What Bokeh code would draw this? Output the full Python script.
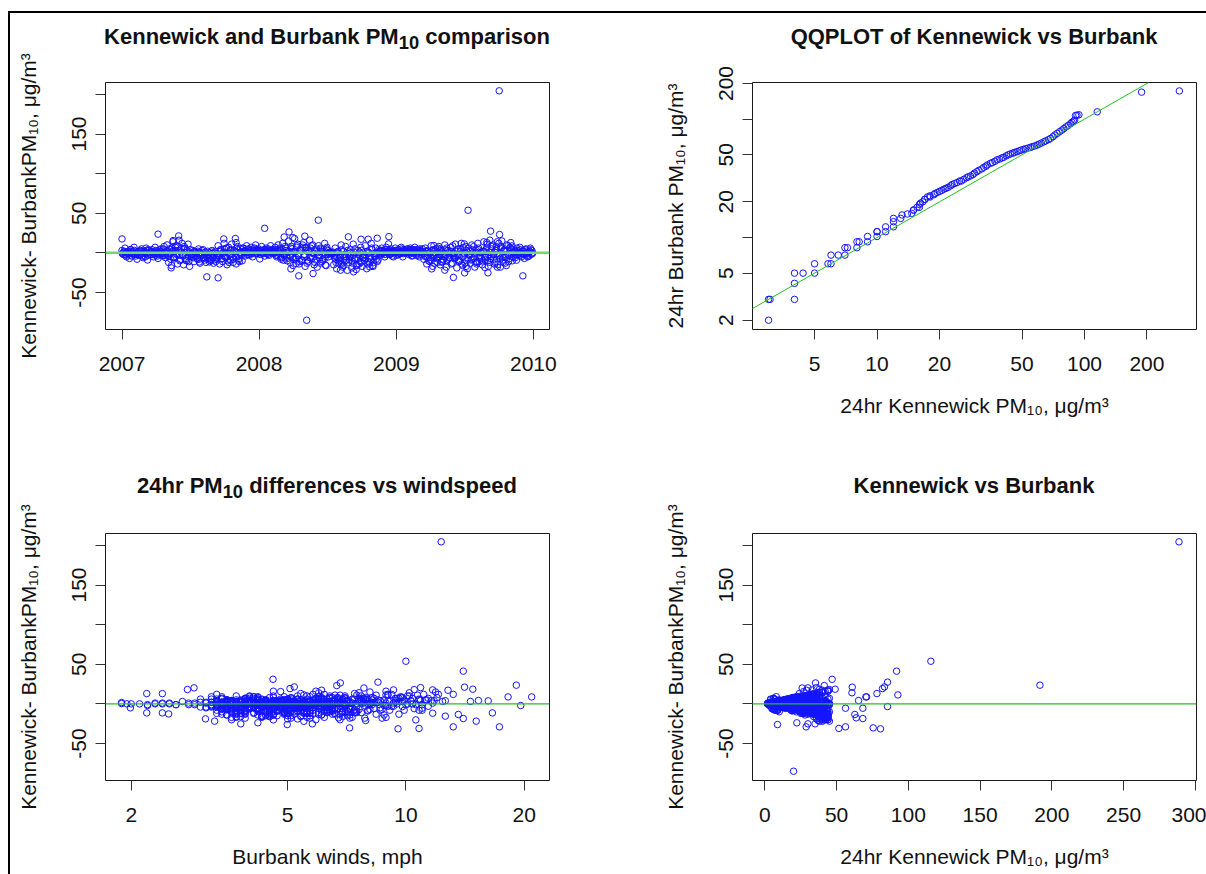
import numpy as np
import pandas as pd
from bokeh.plotting import figure
from bokeh.models import (Range1d, FixedTicker, DatetimeTickFormatter, Div,
                          PrintfTickFormatter, Span, Slope, Spacer, ColumnDataSource)
from bokeh.layouts import row, column
from bokeh.embed import file_html
from bokeh.resources import INLINE

# ------------------------------------------------------------------ data
# dense part of the record, three interleaved samplings (every 4 days,
# from 2007-01-01, 2007-01-02 and 2007-01-03): Kennewick - Burbank PM10
# difference, Burbank wind (mph) and Kennewick PM10 for each sampled day
band1_start = "2007-01-01"
band1_diff = [
    3, -2, 6, -5, 1, -7, 4, -1, 7, -4,
    -8, 2, -3, 5, -6, 0, 6, -9, 3, -2,
    4, -5, 7, -1, -7, 2, 5, -3, 8, -6,
    10, -12, 4, -16, 14, -6, 9, -14, 16, -9,
    12, -15, 6, -10, 11, -17,
    -4, 3, -11, 1, -7, 5, -13, -2, 4, -9,
    -12, 2, -6, -10, 3, -13, 0, -8,
    9, -14, 4, -11, 12, -5, -15, 7, -9,
    11, -12, 2, -14, 8, -7, 5, -10,
    6, -4, 9, 1, -3, 7, -5, 3, 10, -1,
    5, -2, 8, 0, -4, 6, 2, -3, 9, 4,
    -1, 7, -5, 10, 3, -8, 12, -2, 6, -10,
    15, -12, 8, -16, 18, -6, 11, -14, 4, -9,
    13, -17, 7, -11, 16, -4, 10, -15, 2, -18,
    9, -13, 5, -8, 12, -16, 3,
    -1, 1, 0,
    -15, 6, -20, 2, -10, 10, -18, -5, 8, -22,
    -12, 4, -19, 11, -8, -21, 3, -14, 7, -17,
    -6, 9, -20, 1, -13, 12, -16, -3, 6, -11,
    4, -3, 6, 0, -5, 7, 2, -2, 5, -4,
    1, 6, -3, 4, -1, 7, -5, 3, 0, 5,
    -2, 6, -4, 2, 7, -3, 4, -5, 1, 5,
    -8, 6, -14, 2, -11, 9, -17, -3, 5, -12,
    8, -15, 1, -9, 10, -18, 3, -6, 7, -13,
    -4, 11, -19, 5, -10, 12, -16, -1, 8, -20,
    6, -13, 10, -7, -18, 3, 12, -11, 0, -15,
    14, -9, 7, -17, 16, -4, 10, -14, 3, -18,
    12, -7, 15, -12, 5, -16, 9, -3, 13, -10,
    4, -6, 6, -2, 7, -5, 2, -7, 5, 0, -4, 6, 3,
]
band1_wind = [
    5.2, 3.4, 7.8, 4.1, 2.3, 6.5, 3.9, 2.9, 9.4, 4.6,
    5.8, 3.1, 4.4, 8.2, 3.6, 2.1, 6.9, 4.9, 3.3, 5.5,
    10.3, 4.0, 5.1, 2.6, 7.2, 3.7, 11.2, 4.8, 6.1, 3.5,
    6.4, 3.8, 9.9, 4.5, 7.6, 5.3, 3.2, 8.8, 5.9, 4.2,
    12.1, 4.7, 6.2, 3.9, 8.4, 5.6,
    3.4, 5.0, 7.0, 2.8, 4.3, 10.8, 6.0, 3.6, 4.9, 8.0,
    4.1, 3.0, 6.6, 5.4, 9.1, 3.7, 2.5, 7.4,
    5.7, 4.4, 11.6, 6.3, 3.3, 8.6, 5.0, 4.0, 7.1,
    6.8, 3.9, 5.5, 4.6, 9.7, 3.5, 7.9, 5.2,
    4.2, 3.1, 6.0, 2.4, 5.6, 8.3, 3.8, 4.7, 10.1, 2.2,
    7.3, 3.4, 4.5, 1.95, 6.4, 3.0, 5.1, 9.3, 4.1, 11.8,
    3.6, 5.9, 4.8, 7.7, 2.7, 6.2, 9.0, 3.9, 5.3, 4.4,
    8.1, 4.5, 6.7, 3.8, 10.5, 5.0, 7.5, 4.2, 12.6, 6.1,
    5.4, 3.7, 9.6, 6.9, 4.6, 3.2, 7.0, 5.7, 4.0, 8.7,
    4.9, 6.5, 3.5, 11.0, 5.8, 4.3, 7.8,
    3.3, 4.7, 6.3,
    4.4, 6.0, 3.6, 8.5, 5.1, 4.0, 7.2, 3.1, 9.8, 5.5,
    6.6, 4.2, 5.0, 10.7, 3.8, 7.9, 4.6, 6.1, 3.4, 8.9,
    5.3, 4.1, 6.8, 2.9, 4.9, 9.2, 3.7, 5.9, 7.4, 4.5,
    3.5, 6.2, 4.3, 2.3, 5.7, 10.4, 3.9, 4.8, 7.6, 3.0,
    5.0, 8.0, 3.3, 6.5, 2.6, 11.4, 4.4, 3.6, 2.0, 5.4,
    3.9, 6.9, 4.0, 5.2, 9.5, 3.2, 7.1, 4.6, 2.5, 5.8,
    4.7, 6.1, 3.5, 8.2, 5.5, 4.2, 7.3, 3.8, 10.9, 5.0,
    6.4, 4.3, 3.1, 7.5, 5.6, 3.9, 12.4, 4.9, 6.7, 8.4,
    3.4, 9.0, 5.3, 4.1, 6.3, 11.1, 4.5, 2.8, 7.0, 5.9,
    4.8, 6.6, 3.7, 8.1, 5.1, 4.0, 13.2, 7.7, 3.5, 5.4,
    10.2, 4.2, 6.0, 3.6, 8.9, 5.2, 4.6, 7.2, 14.6, 5.7,
    6.2, 3.8, 11.9, 5.0, 4.3, 6.9, 9.7, 3.3, 7.4, 4.9,
    4.4, 5.6, 3.2, 2.2, 7.0, 4.0, 3.6, 8.7, 5.3, 2.4, 6.4, 3.9, 4.7,
]
band1_kenn = [
    12, 8, 18, 14, 5, 20, 10, 4, 22, 11,
    19, 7, 13, 16, 21, 3, 15, 24, 9, 6,
    14, 17, 23, 5, 26, 9, 13, 8, 19, 22,
    30, 34, 21, 38, 40, 25, 28, 36, 44, 27,
    33, 41, 24, 29, 37, 43,
    16, 12, 31, 7, 24, 18, 35, 10, 15, 28,
    33, 11, 22, 29, 14, 37, 6, 26,
    27, 39, 17, 32, 34, 20, 42, 23, 30,
    31, 35, 13, 40, 26, 21, 19, 32,
    4, 12, 8, 6, 10, 6, 14, 9, 25, 5,
    13, 8, 20, 4, 11, 16, 7, 10, 23, 12,
    6, 19, 15, 27, 11, 23, 33, 9, 17, 28,
    40, 34, 24, 41, 45, 18, 30, 38, 14, 26,
    36, 44, 21, 30, 42, 13, 29, 39, 8, 43,
    27, 35, 16, 24, 32, 41, 10,
    7, 9, 5,
    38, 20, 44, 12, 29, 30, 42, 17, 25, 40,
    33, 15, 43, 31, 24, 37, 11, 36, 22, 39,
    19, 28, 41, 8, 34, 33, 38, 12, 18, 30,
    12, 9, 17, 4, 14, 20, 7, 6, 15, 11,
    6, 16, 10, 13, 5, 19, 15, 9, 3, 14,
    8, 17, 12, 7, 21, 10, 13, 16, 4, 15,
    22, 18, 37, 9, 30, 26, 41, 11, 16, 32,
    24, 39, 6, 25, 29, 42, 12, 19, 21, 35,
    14, 31, 43, 17, 27, 34, 40, 7, 23, 44,
    19, 36, 28, 21, 42, 11, 33, 30, 5, 38,
    37, 26, 22, 40, 44, 15, 29, 36, 13, 41,
    34, 23, 38, 33, 18, 39, 27, 10, 35, 28,
    13, 18, 16, 8, 20, 15, 7, 21, 14, 4, 12, 17, 10,
]

band2_start = "2007-01-03"
band2_diff = [
    0, 2, -3, 1, -1, 4, -4, 2, -2, 0,
    1, -3, 3, -1, 2, -5, 0, 4, -2, 1,
    -2, 1, 3, -4, 0, 2, -1, 5, -3, 1,
    -3, 5, -8, 2, -5, 7, -2, 3, -10, 6,
    -4, 8, -7, 1, -11, 4,
    -2, -6, 1, -4, 2, -8, 0, -3, -7, 1,
    -5, -2, -9, 1, -6, -3, -11, -1,
    -3, 4, -7, 1, -5, 6, -10, -2, 3,
    -6, 3, -4, 6, -9, 0, -3, 2,
    2, 0, 4, -2, 3, 1, 5, -1, 2, 3,
    1, 3, 0, 4, 2, -1, 5, 1, 3, 0,
    2, -3, 4, 0, -5, 5, -2, 8, -4, 1,
    -3, 6, -6, 2, -8, 9, -1, 4, -10, 7,
    -5, 3, -9, 1, 6, -7, 0, -12, 5, -3,
    -6, 2, -9, 4, -2, 7, -5,
    0, -1, 1,
    -6, -12, 0, -8, -3, -14, 2, -10, -5, -1,
    -9, -4, -13, 1, -7, -16, -2, -11, 3, -6,
    -10, -3, -14, 0, -8, 4, -12, -5, -1, -9,
    1, 3, -1, 2, 4, 0, 3, -2, 1, 2,
    2, 0, 3, 1, -1, 2, 4, 0, 2, 1,
    3, 1, 0, 4, 2, -1, 1, 3, -2, 2,
    -3, 2, -6, 0, -9, 3, -4, -1, -7, 1,
    -5, 3, -8, -2, 4, -10, 0, -6, 2, -4,
    -7, 2, -3, -11, 5, -5, 0, -13, 3, -8,
    -2, -9, 4, -5, 1, -12, 6, -4, -7, 2,
    -5, 4, -10, 1, -7, 8, -2, -12, 5, -3,
    -4, 6, -9, 2, -6, 3, -11, 7, -1, -5,
    1, -2, 3, 0, -3, 2, -1, 4, -4, 1, 2, -2, 0,
]
band2_wind = [
    4.3, 3.6, 5.4, 6.8, 3.2, 4.9, 7.3, 5.9, 3.9, 4.6,
    6.1, 3.5, 4.7, 5.2, 8.3, 3.8, 4.1, 6.6, 5.0, 3.3,
    5.6, 4.4, 7.1, 3.7, 4.9, 6.0, 3.4, 8.8, 5.3, 4.2,
    3.9, 5.1, 6.3, 4.5, 3.6, 7.8, 5.7, 4.0, 6.9, 3.3,
    4.8, 6.5, 3.5, 5.4, 7.4, 4.1,
    5.9, 3.7, 4.6, 6.2, 3.4, 5.0, 8.1, 4.3, 3.8, 6.7,
    4.5, 5.6, 3.9, 7.0, 4.2, 6.1, 3.6, 5.3,
    3.5, 4.8, 6.4, 5.1, 3.8, 7.6, 4.4, 5.8, 9.6,
    4.0, 5.5, 3.3, 6.8, 4.7, 5.2, 7.9, 3.7,
    3.4, 4.6, 5.7, 3.9, 6.5, 4.2, 8.5, 5.0, 3.6, 4.8,
    5.3, 3.8, 4.4, 6.9, 3.2, 5.8, 4.0, 7.2, 3.5, 10.4,
    4.9, 6.3, 3.6, 5.5, 4.2, 7.7, 3.9, 5.1, 6.0, 4.5,
    3.7, 5.0, 6.6, 4.3, 8.0, 3.4, 5.6, 4.8, 7.1, 3.9,
    6.2, 4.0, 5.3, 3.5, 7.3, 4.6, 5.9, 3.8, 4.4, 6.8,
    5.1, 3.6, 4.7, 8.6, 3.9, 6.1, 4.3,
    5.5, 3.4, 4.1,
    4.6, 3.7, 5.8, 4.2, 7.0, 3.5, 5.2, 6.4, 3.9, 4.9,
    5.7, 4.1, 3.4, 6.3, 4.8, 5.4, 3.7, 7.5, 4.4, 5.0,
    3.8, 6.0, 4.5, 5.3, 3.3, 9.4, 4.9, 5.7, 3.6, 6.5,
    4.2, 5.1, 3.5, 6.7, 4.6, 3.9, 5.6, 4.3, 7.8, 3.2,
    4.8, 3.7, 6.1, 4.0, 5.4, 3.4, 4.7, 6.9, 3.8, 5.2,
    3.6, 5.8, 4.4, 3.3, 6.3, 4.9, 5.5, 3.9, 8.9, 4.1,
    5.0, 4.3, 3.7, 6.6, 4.7, 5.9, 3.5, 4.5, 7.4, 5.3,
    4.1, 6.2, 3.8, 5.1, 4.6, 3.4, 5.7, 4.0, 6.8, 3.6,
    5.4, 3.9, 4.8, 6.0, 3.5, 7.2, 4.4, 5.2, 3.7, 9.9,
    4.5, 5.6, 3.6, 6.5, 4.2, 3.3, 5.0, 4.7, 7.6, 3.9,
    6.4, 4.0, 5.5, 3.7, 4.9, 8.2, 4.3, 5.8, 3.5, 6.1,
    3.8, 5.3, 4.5, 6.7, 3.4, 4.8, 5.6, 4.1, 7.0, 3.6,
    4.6, 3.9, 5.7, 4.2, 6.3, 3.5, 5.0, 4.4, 3.7, 6.0, 4.8, 5.4, 3.3,
]
band2_kenn = [
    3, 15, 6, 20, 12, 17, 8, 25, 11, 4,
    22, 10, 16, 7, 28, 13, 19, 11, 24, 8,
    18, 26, 12, 30, 9, 21, 15, 7, 27, 13,
    35, 19, 28, 42, 23, 31, 38, 17, 33, 26,
    24, 39, 30, 44, 27, 36,
    20, 5, 32, 25, 11, 8, 37, 18, 6, 40,
    27, 34, 19, 42, 31, 16, 38, 22,
    41, 25, 33, 18, 44, 29, 36, 21, 39,
    28, 43, 20, 35, 30, 45, 24, 38,
    5, 2, 11, 29, 8, 3, 14, 6, 19, 26,
    12, 27, 2, 20, 33, 4, 22, 6, 18, 3,
    25, 13, 36, 19, 30, 10, 41, 23, 16, 35,
    31, 44, 22, 38, 27, 35, 42, 20, 33, 45,
    29, 40, 24, 37, 19, 33, 45, 26, 39, 21,
    36, 23, 41, 30, 44, 27, 34,
    14, 21, 11,
    32, 25, 40, 19, 35, 28, 43, 22, 37, 45,
    26, 38, 30, 44, 21, 34, 41, 27, 36, 23,
    39, 29, 44, 24, 33, 42, 27, 37, 20, 31,
    3, 22, 5, 26, 13, 2, 19, 8, 4, 17,
    21, 2, 28, 4, 34, 9, 18, 3, 12, 5,
    14, 4, 2, 9, 32, 5, 24, 13, 6, 19,
    30, 23, 37, 16, 41, 28, 34, 20, 43, 26,
    33, 18, 40, 25, 36, 44, 22, 31, 27, 39,
    7, 29, 42, 38, 4, 32, 45, 41, 26, 9,
    24, 40, 31, 36, 19, 43, 28, 34, 38, 22,
    41, 27, 45, 30, 36, 23, 39, 44, 33, 29,
    37, 31, 43, 26, 35, 20, 42, 29, 24, 39,
    18, 3, 12, 29, 21, 15, 4, 10, 27, 2, 14, 23, 5,
]

band3_start = "2007-01-02"
band3_diff = [
    -1, 1, -2, 0, 2, -3, 1, -1, 3, -2,
    0, -2, 2, -4, 1, -1, 3, -3, 0, 2,
    1, -1, -3, 2, -2, 4, 0, -4, 1, -1,
    2, -4, 0, 6, -6, 3, -1, 8, -3, 1,
    -2, 5, -9, 3, -5, 0,
    -1, -5, 2, -3, -8, 0, -4, 3, -6, -2,
    -3, -7, 0, -4, -1, -9, 2, -6,
    -4, 2, -8, -1, 5, -6, 0, -12, 4,
    -2, -8, 1, -5, 4, -11, -1, 6,
    0, 3, -2, 5, 1, -1, 2, 6, 0, 4,
    2, 0, 3, -1, 4, 1, -2, 3, 0, 2,
    0, 4, -3, 2, 6, -6, 1, -4, 3, -7,
    2, -4, 5, -8, 1, 7, -3, -11, 3, 10,
    -2, 6, -13, 3, -6, 9, -1, 4, -9, 0,
    -3, 6, -11, 1, -7, 5, -2,
    1, 0, -1,
    -3, -8, 1, -13, -6, 4, -16, -2, -9, 3,
    -5, 0, -10, -3, 5, -15, -7, 1, -12, -4,
    -2, -7, 2, -11, -4, 6, -17, -1, -8, 0,
    2, -1, 3, 1, -2, 4, 0, 2, -1, 3,
    0, 3, 1, -2, 2, 5, -1, 2, 4, 0,
    1, -1, 4, 0, 3, 1, -3, 5, 2, 0,
    -1, -5, 3, -10, 0, -6, 4, -13, -2, 6,
    -2, 5, -11, 0, -5, 6, -8, 2, -14, -1,
    -1, -6, 4, -9, 2, -14, 7, -3, -17, 1,
    -3, 2, -8, 8, -1, -14, 4, -6, 1, -10,
    2, -6, 11, -2, -12, 5, -8, 1, 8, -15,
    -1, 8, -5, 3, -13, 10, -2, -7, 4, 1,
    0, 2, -3, 1, 4, -1, 3, -2, 0, -5, 1, 4, -1,
]
band3_wind = [
    3.7, 5.5, 4.2, 6.2, 3.4, 4.8, 8.9, 5.1, 3.6, 7.0,
    4.4, 3.2, 5.8, 4.0, 6.8, 3.5, 5.3, 9.2, 4.6, 3.8,
    6.0, 3.9, 4.5, 7.6, 3.3, 5.5, 4.1, 6.4, 3.7, 10.6,
    5.0, 3.5, 6.7, 4.2, 8.3, 3.8, 5.5, 4.6, 11.4, 3.4,
    6.3, 4.4, 3.7, 7.1, 5.2, 4.0,
    3.6, 5.4, 4.3, 9.0, 3.9, 6.1, 4.8, 3.3, 7.2, 5.6,
    4.7, 3.4, 6.3, 4.0, 10.0, 5.1, 3.7, 6.9,
    5.3, 4.1, 3.6, 8.2, 4.9, 6.0, 3.9, 5.5, 4.4,
    3.8, 6.3, 4.5, 5.0, 3.5, 7.4, 4.2, 10.8,
    5.6, 3.3, 4.7, 7.1, 3.9, 5.2, 4.3, 6.6, 9.5, 3.6,
    4.1, 6.4, 3.5, 5.0, 8.6, 3.8, 4.6, 5.7, 3.4, 6.3,
    3.9, 4.6, 7.5, 3.5, 5.9, 4.2, 11.7, 5.4, 3.7, 6.7,
    5.2, 3.6, 4.9, 9.1, 4.1, 6.4, 3.8, 5.7, 4.4, 10.2,
    4.3, 7.9, 3.9, 5.1, 3.4, 6.0, 4.7, 9.0, 5.5, 3.6,
    4.0, 5.6, 3.7, 6.6, 4.5, 11.3, 3.3,
    4.4, 6.9, 3.7,
    5.3, 3.9, 4.7, 6.8, 3.5, 10.3, 4.3, 5.6, 3.7, 8.0,
    3.5, 6.4, 4.6, 5.0, 3.8, 7.1, 4.2, 9.3, 5.7, 3.4,
    4.7, 3.6, 8.4, 4.1, 5.5, 3.9, 6.2, 4.5, 10.8, 5.0,
    3.7, 4.5, 6.4, 3.4, 5.1, 7.7, 4.0, 3.3, 5.8, 4.6,
    6.2, 3.9, 4.6, 8.8, 3.6, 5.0, 4.2, 3.5, 6.6, 4.9,
    4.3, 3.4, 5.7, 4.8, 3.8, 7.3, 4.1, 6.0, 3.5, 10.1,
    3.9, 5.8, 4.4, 3.6, 7.0, 5.2, 4.0, 9.6, 3.5, 6.3,
    5.5, 3.7, 4.9, 8.0, 4.2, 3.4, 6.5, 5.1, 4.5, 11.0,
    4.1, 6.8, 3.6, 5.3, 9.4, 4.6, 3.9, 5.9, 4.3, 7.3,
    3.5, 5.0, 4.4, 7.9, 3.8, 6.1, 4.2, 10.5, 5.4, 3.6,
    4.8, 3.9, 6.6, 4.3, 5.6, 3.5, 8.6, 4.0, 12.0, 5.1,
    5.9, 4.2, 3.7, 9.8, 4.6, 5.3, 3.4, 6.3, 4.0, 7.7,
    3.6, 5.0, 4.3, 6.7, 3.8, 4.9, 3.3, 5.6, 8.1, 4.1, 3.5, 6.0, 4.5,
]
band3_kenn = [
    10, 5, 14, 9, 18, 7, 13, 21, 6, 16,
    11, 19, 8, 24, 14, 6, 17, 12, 20, 9,
    15, 10, 23, 13, 19, 28, 8, 16, 11, 25,
    22, 30, 17, 36, 26, 19, 32, 40, 24, 29,
    21, 34, 39, 27, 31, 18,
    13, 27, 17, 21, 33, 9, 24, 16, 30, 12,
    18, 31, 8, 25, 14, 36, 20, 28,
    23, 17, 9, 12, 29, 7, 15, 40, 26,
    16, 34, 10, 28, 22, 41, 13, 31,
    7, 16, 10, 21, 4, 8, 13, 24, 6, 18,
    9, 4, 14, 7, 19, 11, 5, 16, 8, 15,
    10, 21, 17, 13, 28, 25, 8, 22, 18, 31,
    19, 26, 29, 7, 12, 6, 21, 39, 16, 42,
    15, 32, 43, 22, 28, 38, 11, 25, 35, 9,
    20, 29, 40, 14, 31, 26, 17,
    8, 12, 6,
    17, 8, 11, 39, 6, 21, 44, 14, 33, 19,
    22, 9, 35, 18, 27, 41, 29, 12, 37, 20,
    15, 28, 13, 36, 21, 30, 43, 10, 32, 7,
    9, 6, 14, 3, 11, 17, 5, 10, 7, 13,
    4, 12, 8, 10, 6, 21, 9, 13, 16, 7,
    5, 8, 15, 3, 12, 6, 14, 19, 10, 4,
    12, 24, 18, 10, 9, 5, 20, 38, 15, 7,
    14, 25, 36, 8, 23, 31, 29, 16, 40, 11,
    10, 27, 20, 32, 15, 40, 30, 18, 43, 12,
    16, 13, 30, 33, 9, 41, 22, 26, 11, 34,
    18, 28, 38, 12, 37, 24, 31, 10, 36, 42,
    11, 33, 25, 19, 39, 35, 14, 28, 21, 8,
    6, 11, 15, 9, 18, 7, 13, 10, 4, 20, 8, 16, 5,
]

# individual days outside the band (NaN wind = missing)
nan = float("nan")
out_date = [
    "2009-10-02", "2009-07-11", "2008-06-07", "2008-01-16", "2009-09-09", "2008-03-21",
    "2007-04-07", "2009-10-03", "2007-06-01", "2008-05-02", "2008-12-12", "2008-08-26",
    "2008-03-08", "2008-03-31", "2008-11-11", "2007-10-30", "2007-09-29", "2007-01-01",
    "2008-09-29", "2008-10-18", "2007-05-17", "2009-09-27", "2009-08-30", "2007-11-01",
    "2008-12-11", "2009-07-01", "2009-05-31", "2009-11-05", "2009-04-11", "2009-02-06",
    "2009-02-24", "2009-09-16", "2008-01-22", "2008-02-13", "2008-12-24", "2009-02-13",
    "2008-07-27", "2009-04-20", "2008-01-03", "2008-03-06", "2009-11-17", "2008-04-09",
    "2007-07-26", "2007-08-22", "2008-08-07", "2009-05-01", "2008-06-26", "2008-10-22",
    "2009-08-25", "2009-10-05", "2007-05-12", "2008-03-26", "2009-04-05", "2008-08-05",
    "2009-05-10", "2008-09-09", "2008-05-24", "2009-07-02", "2009-09-02", "2008-04-16",
    "2009-12-04", "2007-08-15", "2007-09-14", "2009-06-02", "2008-05-07", "2009-07-31",
]
out_diff = [
    204.5, 53.8, 41.3, 31.0, 27.4, 26.4,
    23.6, 23.1, 21.4, 21.1, 20.5, 20.2,
    20.0, 19.3, 18.5, 18.1, 17.6, 17.6,
    17.2, 17.2, 15.5, 14.0, 13.0, 12.9,
    11.3, 11.3, 8.8, 8.8, 9.2, 4.2,
    3.8, -2.1, 1.7, 0.4, -5.0, -3.4,
    -5.5, -5.5, -7.6, -9.2, -9.2, -13.4,
    -11.4, -11.4, -12.7, -11.8, -15.5, -17.6,
    -18.5, -18.0, -18.9, -20.2, -20.2, -21.8,
    -21.8, -23.9, -26.1, -25.2, -25.2, -29.0,
    -29.0, -30.3, -31.5, -31.0, -85.0, -11.4,
]
out_wind = [
    12.3, 10.0, 14.0, 4.59, 8.49, 6.81,
    19.1, 6.67, 5.20, 14.1, 10.9, 2.89,
    7.82, 5.07, 14.8, 2.78, 11.7, 9.3,
    12.8, 6.1, 4.8, 6.0, 2.19, 2.40,
    5.5, 8.9, 18.2, 20.9, 4.0, 15.3,
    16.2, 19.6, 1.89, 1.89, 1.99, 9.8,
    7.0, 11.0, 3.5, 6.5, 4.4, 13.6,
    2.19, 2.40, 2.49, 11.7, 12.6, 6.74,
    14.0, 7.86, 3.09, 4.6, 10.6, 3.26,
    15.1, 4.2, 4.99, 3.8, 5.78, 13.2,
    17.3, 7.19, 9.55, 10.8, nan, 16.6,
]
out_kenn = [
    288.6, 115.7, 91.8, 46.9, 85.5, 35.3,
    191.7, 41.4, 83.4, 60.9, 36.0, 30.0,
    26.0, 82.0, 49.0, 38.0, 44.0, 33.0,
    40.0, 29.0, 27.0, 60.7, 78.1, 24.0,
    92.7, 31.0, 70.4, 70.9, 22.0, 65.3,
    25.0, 30.0, 4.0, 6.0, 9.0, 85.5,
    68.3, 56.2, 18.0, 25.0, 30.0, 62.7,
    26.0, 28.0, 33.0, 33.0, 44.2, 63.7,
    68.3, 38.0, 36.0, 40.0, 42.0, 45.0,
    38.0, 22.3, 8.8, 30.0, 35.0, 28.8,
    56.2, 75.5, 80.6, 51.6, 20.0, 30.0,
]

# QQ plot quantiles (sorted Kennewick vs sorted Burbank, 24hr PM10)
qq_kenn = [
    3.0, 3.0, 3.05, 4.0, 4.0, 4.0, 4.4, 5.0, 5.0, 5.8,
    6.0, 6.0, 6.5, 7.0, 7.0, 7.2, 8.0, 8.0, 8.2, 9.0,
    9.0, 10.0, 10.0, 10.0, 11.0, 11.0, 12.0, 12.0, 12.0, 13.0,
    13.2, 14.0, 14.7, 15.0, 15.0, 15.6, 16.0, 16.0, 16.2, 16.6,
    17.0, 17.0, 17.5, 18.0, 18.0, 18.8, 19.0, 19.5, 20.0, 20.5,
    21.0, 21.5, 22.0, 22.6, 23.0, 23.6, 24.3, 25.0, 25.5, 26.2,
    27.0, 27.5, 28.2, 29.0, 29.5, 30.3, 31.0, 32.0, 32.7, 33.5,
    34.0, 35.2, 36.0, 37.0, 37.9, 39.0, 40.0, 40.8, 42.0, 43.0,
    43.9, 45.0, 46.0, 47.3, 48.5, 49.5, 50.9, 52.0, 53.5, 54.9,
    56.0, 57.5, 59.1, 60.5, 62.0, 63.7, 65.0, 67.0, 68.6, 70.5,
    72.0, 73.9, 76.0, 78.0, 79.6, 81.5, 83.5, 85.7, 87.0, 88.5,
    89.6, 90.6, 92.0, 94.0, 115.2, 188.5, 286.6,
]
qq_burb = [
    2.0, 3.0, 3.0, 3.0, 4.1, 5.0, 5.0, 5.0, 6.0, 6.0,
    6.0, 7.1, 7.1, 7.1, 8.2, 8.2, 8.2, 9.2, 9.2, 9.2,
    10.2, 10.2, 11.2, 11.2, 11.2, 12.3, 12.3, 13.6, 14.5, 14.5,
    15.5, 15.8, 16.0, 17.0, 17.1, 18.0, 18.0, 19.0, 19.5, 20.0,
    21.0, 21.0, 22.0, 22.0, 22.5, 23.0, 23.5, 24.0, 24.5, 25.0,
    25.6, 26.0, 26.5, 27.3, 28.0, 28.5, 29.1, 30.0, 30.0, 31.0,
    32.0, 32.5, 33.1, 34.0, 35.0, 36.0, 37.0, 38.0, 39.2, 40.0,
    41.0, 42.3, 43.0, 44.0, 45.3, 46.0, 47.0, 47.6, 49.0, 50.0,
    50.8, 51.5, 52.3, 53.1, 54.0, 54.8, 55.5, 56.2, 57.0, 57.7,
    58.5, 59.3, 60.4, 61.5, 62.8, 64.3, 65.5, 67.0, 68.7, 71.0,
    73.5, 75.8, 78.5, 81.0, 83.3, 86.0, 88.5, 91.6, 94.0, 96.0,
    98.0, 107.4, 108.0, 108.8, 115.3, 169.0, 173.0,
]

# axes
diff_ticks = [-50, 0, 50, 100, 150, 200]
diff_hidden = {0: "", 100: "", 200: ""}
year_ticks = ["2007-01-01", "2008-01-01", "2009-01-01", "2010-01-01"]
qq_x_ticks = [5, 10, 20, 50, 100, 200]
qq_y_ticks = [2, 5, 10, 20, 50, 100, 200]
qq_y_hidden = {10: "", 100: ""}
wind_ticks = [2, 5, 10, 20]
kenn_ticks = [0, 50, 100, 150, 200, 250, 300]

# ------------------------------------------------------------------ derived
dates = (list(pd.date_range(band1_start, periods=len(band1_diff), freq="4D"))
         + list(pd.date_range(band2_start, periods=len(band2_diff), freq="4D"))
         + list(pd.date_range(band3_start, periods=len(band3_diff), freq="4D"))
         + list(pd.to_datetime(out_date)))
diffs = np.array(band1_diff + band2_diff + band3_diff + out_diff, dtype=float)
winds = np.array(band1_wind + band2_wind + band3_wind + out_wind, dtype=float)
kenns = np.array(band1_kenn + band2_kenn + band3_kenn + out_kenn, dtype=float)
has_wind = ~np.isnan(winds)

src_time = ColumnDataSource(dict(x=dates, y=diffs))
src_wind = ColumnDataSource(dict(x=winds[has_wind], y=diffs[has_wind]))
src_kenn = ColumnDataSource(dict(x=kenns, y=diffs))
src_qq = ColumnDataSource(dict(x=qq_kenn, y=qq_burb))

# ------------------------------------------------------------------ styling
FONT = "Liberation Sans"
BLUE = "#1414ff"
YLAB = "Kennewick- BurbankPM\u2081\u2080, \u03bcg/m\u00b3"
KLAB = "24hr Kennewick PM\u2081\u2080, \u03bcg/m\u00b3"


def make(lb, rb, tb, bb, **kw):
    p = figure(frame_width=444, frame_height=247, min_border_left=lb, min_border_right=rb,
               min_border_top=tb, min_border_bottom=bb, output_backend="svg",
               toolbar_location=None, title=None, **kw)
    p.background_fill_color = "white"
    p.border_fill_color = "white"
    p.outline_line_color = "#1a1a1a"
    p.outline_line_width = 1
    p.xgrid.visible = False
    p.ygrid.visible = False
    for ax in p.xaxis + p.yaxis:
        ax.axis_line_color = None
        ax.major_tick_out = 10
        ax.major_tick_in = 0
        ax.minor_tick_out = 0
        ax.minor_tick_in = 0
        ax.major_tick_line_color = "#333333"
        ax.major_label_text_font = FONT
        ax.major_label_text_font_size = "21px"
        ax.major_label_text_color = "#111111"
        ax.axis_label_text_font = FONT
        ax.axis_label_text_font_size = "21px"
        ax.axis_label_text_font_style = "normal"
        ax.axis_label_text_color = "#111111"
    for ax in p.xaxis:
        ax.major_label_standoff = 17
        ax.axis_label_standoff = 20
    for ax in p.yaxis:
        ax.major_label_orientation = "vertical"
        ax.major_label_standoff = 9
        ax.axis_label_standoff = 30
    return p


def title_box(html, left, width, height, line_height):
    head = Div(text=html, width=width, height=height, margin=0,
               styles={"font-family": FONT, "font-size": "22px", "font-weight": "bold",
                       "color": "#111111", "text-align": "center", "white-space": "nowrap",
                       "line-height": f"{line_height}px", "overflow": "visible"})
    return row(Spacer(width=left, height=height, margin=0), head)


def diff_yaxis(p):
    p.yaxis.ticker = FixedTicker(ticks=diff_ticks)
    p.yaxis.formatter = PrintfTickFormatter(format="%d")
    p.yaxis.major_label_overrides = diff_hidden
    p.yaxis.axis_label = YLAB


def pts(p, src):
    p.scatter("x", "y", source=src, marker="circle", size=6.5, fill_color=None,
              line_color=BLUE, line_width=1)


y_diff = (-96.7, 215.0)

# panel 1: time series of differences
p1 = make(95, 54, 33, 111, x_axis_type="datetime",
          x_range=Range1d(pd.Timestamp("2006-11-18"), pd.Timestamp("2010-02-13")),
          y_range=Range1d(*y_diff))
pts(p1, src_time)
p1.add_layout(Span(location=0, dimension="width", line_color="#6fd86f", line_width=2.5))
p1.xaxis.ticker = FixedTicker(ticks=[pd.Timestamp(t).value // 10**6 for t in year_ticks])
p1.xaxis.formatter = DatetimeTickFormatter(years="%Y", months="%Y", days="%Y", hours="%Y")
diff_yaxis(p1)

# panel 2: QQ plot
p2 = make(149, 10, 33, 111, x_axis_type="log", y_axis_type="log",
          x_range=Range1d(2.51, 346.7), y_range=Range1d(1.67, 203.9))
pts(p2, src_qq)
p2.add_layout(Slope(gradient=1, y_intercept=0, line_color="#22c022", line_width=1))
p2.xaxis.ticker = FixedTicker(ticks=qq_x_ticks)
p2.xaxis.formatter = PrintfTickFormatter(format="%d")
p2.xaxis.axis_label = KLAB
p2.yaxis.ticker = FixedTicker(ticks=qq_y_ticks)
p2.yaxis.formatter = PrintfTickFormatter(format="%d")
p2.yaxis.major_label_overrides = qq_y_hidden
p2.yaxis.axis_label = "24hr Burbank PM\u2081\u2080, \u03bcg/m\u00b3"

# panel 3: differences vs wind
p3 = make(95, 54, 35, 94, x_axis_type="log", x_range=Range1d(1.72, 23.2),
          y_range=Range1d(*y_diff))
pts(p3, src_wind)
p3.add_layout(Span(location=0, dimension="width", line_color="#22c022", line_width=1.2))
p3.xaxis.ticker = FixedTicker(ticks=wind_ticks)
p3.xaxis.formatter = PrintfTickFormatter(format="%d")
p3.xaxis.axis_label = "Burbank winds, mph"
diff_yaxis(p3)

# panel 4: differences vs Kennewick
p4 = make(149, 10, 35, 94, x_range=Range1d(-8.6, 300.8), y_range=Range1d(*y_diff))
pts(p4, src_kenn)
p4.add_layout(Span(location=0, dimension="width", line_color="#22c022", line_width=1.2))
p4.xaxis.ticker = FixedTicker(ticks=kenn_ticks)
p4.xaxis.formatter = PrintfTickFormatter(format="%d")
p4.xaxis.axis_label = KLAB
diff_yaxis(p4)

# ------------------------------------------------------------------ layout
c1 = column(title_box("Kennewick and Burbank PM<sub>10</sub> comparison", 41, 552, 36, 47), p1)
c2 = column(title_box("QQPLOT of Kennewick vs Burbank", 139, 464, 36, 47), p2)
c3 = column(title_box("24hr PM<sub>10</sub> differences vs windspeed", 41, 552, 58, 91), p3)
c4 = column(title_box("Kennewick vs Burbank", 139, 464, 58, 91), p4)
grid = column(row(c1, c2), row(c3, c4))
layout = column(
    Spacer(width=1206, height=11, margin=0),
    row(Spacer(width=8, height=2, margin=0),
        Spacer(width=1198, height=2, margin=0, styles={"background-color": "black"})),
    row(Spacer(width=8, height=861, margin=0),
        Spacer(width=2, height=861, margin=0, styles={"background-color": "black"}), grid),
)

open("out.html", "w").write(file_html(layout, INLINE, title="Kennewick and Burbank PM10"))
